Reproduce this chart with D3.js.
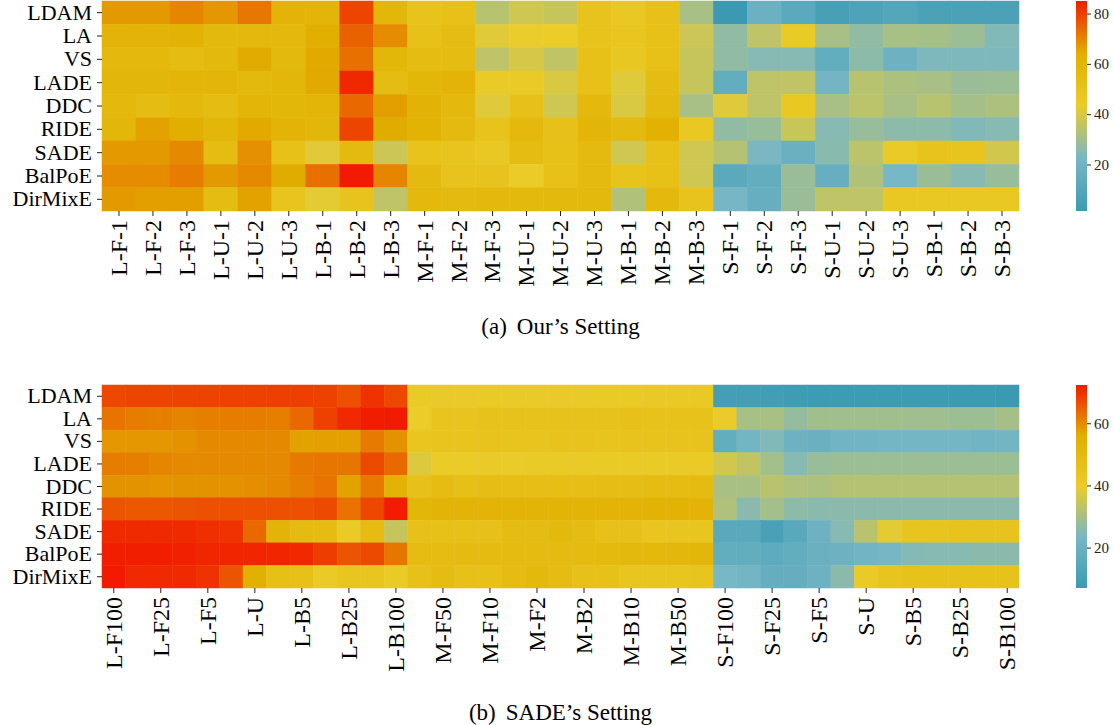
<!DOCTYPE html>
<html>
<head>
<meta charset="utf-8">
<script src="https://cdn.jsdelivr.net/npm/d3@7"></script>
<style>
  body { margin: 0; background: #fff; }
</style>
</head>
<body>
<svg id="chart" width="1114" height="725"></svg>
<script>
const methods = ["LDAM", "LA", "VS", "LADE", "DDC", "RIDE", "SADE", "BalPoE", "DirMixE"];

const oursCols = ["L-F-1", "L-F-2", "L-F-3", "L-U-1", "L-U-2", "L-U-3", "L-B-1", "L-B-2", "L-B-3",
  "M-F-1", "M-F-2", "M-F-3", "M-U-1", "M-U-2", "M-U-3", "M-B-1", "M-B-2", "M-B-3",
  "S-F-1", "S-F-2", "S-F-3", "S-U-1", "S-U-2", "S-U-3", "S-B-1", "S-B-2", "S-B-3"];

const sadeCols = ["L-F100", "L-F50", "L-F25", "L-F10", "L-F5", "L-F2", "L-U", "L-B2", "L-B5", "L-B10", "L-B25", "L-B50", "L-B100",
  "M-F100", "M-F50", "M-F25", "M-F10", "M-F5", "M-F2", "M-U", "M-B2", "M-B5", "M-B10", "M-B25", "M-B50", "M-B100",
  "S-F100", "S-F50", "S-F25", "S-F10", "S-F5", "S-F2", "S-U", "S-B2", "S-B5", "S-B10", "S-B25", "S-B50", "S-B100"];

// (a) Our's setting, one row per method
const oursValues = [
  [67, 67, 70, 67.5, 72, 60.5, 60, 79, 59, 50, 52, 34, 38, 36.6, 49.5, 46, 51, 31, 1.5, 18, 12, 6, 8, 10, 7, 7, 7],
  [60.5, 60.5, 62, 57, 58, 58, 64, 75, 69, 52, 55, 41.5, 43, 43.5, 50, 48, 52, 37.5, 27, 35, 45, 31, 27, 31, 30.5, 29, 24],
  [57.5, 57.5, 55, 57, 64.5, 57, 65, 73, 59, 55, 55, 35, 39.5, 35.5, 52, 47, 52, 36.5, 27, 25, 25, 15, 26, 19, 23.5, 23.5, 23.5],
  [59, 59, 60, 60, 57, 59, 65, 83, 55, 59, 60.5, 45, 45, 40, 52, 41, 55, 36.5, 15, 35, 35.5, 21, 34, 32, 31, 28.5, 29],
  [57.5, 55, 57.5, 55, 60, 59, 60, 74, 66.5, 61, 58, 41, 51, 38, 57.5, 40, 56, 31, 41, 35, 46, 31, 34.5, 31, 34, 30.5, 32],
  [59, 66, 64, 59, 65, 60.5, 59, 79, 64.5, 62, 56, 50, 57.5, 51, 60, 56, 63, 46, 27, 28, 37, 25, 28, 26, 26, 24, 25],
  [67, 67, 69.5, 55, 68.5, 52, 41.5, 56, 37.5, 50, 49, 46, 55, 52, 56, 38, 52, 38, 33.5, 22.8, 17.5, 25.5, 34.5, 45, 49.5, 49, 38.5],
  [69, 69, 71.3, 67, 69.5, 64.5, 73, 85, 70, 56, 49.5, 49.5, 44, 52, 56, 50, 52, 38, 12, 15.5, 28.5, 16.5, 32.5, 22.4, 28.5, 25, 28],
  [67, 66.5, 66.5, 55, 66, 49, 42, 49.5, 35, 57.5, 56, 57.5, 57, 57, 57, 32.5, 57.5, 49.5, 22, 16.5, 28.5, 35, 35, 46, 46, 46, 46]
];

// (b) SADE's setting, one row per method
const sadeValues = [
  [67.4, 67.6, 67.6, 67.8, 67.8, 68, 68, 68.2, 68.2, 68, 66.4, 69.7, 67.4,
   41, 40.5, 40.5, 40.8, 40.5, 40.5, 40.5, 40.5, 40.8, 41, 41.2, 41.2, 41.2,
   9.5, 9.5, 9, 8, 7.5, 7.5, 7.5, 7.5, 7.5, 7.5, 7.3, 7.3, 7],
  [62.5, 61.5, 61.2, 60.8, 61.2, 61.5, 61.5, 61.2, 63.8, 68, 70.7, 72, 72.3,
   39.5, 44, 44, 45.5, 45, 45, 45, 45, 45, 46, 45.5, 45.5, 45.5,
   40, 30, 30.3, 27.5, 29.2, 29.2, 29.2, 29.2, 29, 29, 28.5, 28.5, 29.8],
  [58.6, 58.6, 58.6, 59.2, 60, 60, 60, 60, 57.3, 57.6, 57.6, 61.8, 59.2,
   43.5, 44, 44, 44.5, 44.2, 44.2, 44.5, 44.5, 44.2, 44.5, 44.5, 44.5, 44.5,
   17.5, 22, 24.6, 20.7, 19.5, 21.5, 21.5, 22.5, 22.5, 22.5, 22.5, 21.5, 22],
  [61.5, 61.2, 60.5, 60, 60, 60, 60, 60, 62, 62.2, 62.2, 67, 63.8,
   37.7, 40.3, 40.3, 40.5, 40, 41, 41, 41, 41, 41, 41, 41, 41,
   36, 33.8, 29.5, 25.3, 28, 28.5, 28.5, 28.5, 28.5, 28.5, 28.5, 28.5, 28.5],
  [59, 59, 58.8, 59, 59, 59.2, 59.5, 60, 61.2, 62.5, 57.3, 62, 54,
   46, 48.5, 47, 48, 47.5, 47.5, 47.5, 47.5, 48, 48, 48.5, 48.5, 49,
   30.2, 30.2, 32.5, 31.2, 30.8, 32, 32, 32, 32, 32, 32, 32, 32],
  [66, 65.5, 65.5, 66, 66.4, 66.4, 66.4, 66.4, 66.4, 67, 62.5, 67.4, 72,
   52, 53, 53, 53.4, 53, 53, 53, 53, 53.4, 53.4, 54, 54, 53.4,
   31.2, 26, 29.5, 26.5, 26, 26, 26, 26, 26, 26, 26, 26, 26],
  [70.5, 70.5, 70.5, 70.5, 70, 69.7, 63.8, 53.4, 49, 48.5, 41, 48.5, 34.4,
   46, 46.5, 46, 46, 48.8, 48.8, 50.5, 48.8, 46, 46, 43.5, 43.5, 43.5,
   15, 15, 11, 15, 20.7, 25.3, 32.5, 38.7, 44.2, 44.2, 44.5, 44.5, 44.5],
  [71.8, 71.8, 71.8, 71.5, 71, 71, 71, 71, 70.7, 68.5, 66, 67, 62.2,
   48.5, 48.5, 49, 49, 49, 49.5, 49.5, 49.5, 50, 50.5, 51, 51.5, 52,
   17.5, 17.5, 16.5, 17.5, 19.5, 20.7, 21.5, 23, 25, 25.3, 25.3, 26, 26],
  [72.3, 70.7, 70.5, 70.5, 69.7, 66, 55.6, 47, 46, 41, 43.5, 43.5, 41,
   46, 48.8, 46, 46.5, 48.8, 50.5, 48.8, 46, 46, 43.5, 43.5, 43.5, 44,
   23.3, 22, 18.5, 18.5, 20.7, 26, 41, 44, 45.5, 45.5, 45.5, 45.5, 45.5]
];

const oursBarTicks = [20, 40, 60, 80];
const sadeBarTicks = [20, 40, 60];

// Zissou1 palette, spread evenly over each panel's value range
const palette = ["#3B9AB2", "#78B7C5", "#EBCC2A", "#E1AF00", "#F21A00"];

const serif = "'Liberation Serif', 'Times New Roman', Times, serif";

const svg = d3.select("#chart").style("font-family", serif);
const left = 102, right = 1019;
const barX = 1076, barW = 11;

function drawPanel(id, cols, values, top, bottom, labelEvery, barTicks, caption, captionY) {
  const g = svg.append("g").attr("class", "panel-" + id);

  const x = d3.scaleBand().domain(cols).range([left, right]);
  const y = d3.scaleBand().domain(methods).range([top, bottom]);

  const ext = d3.extent(values.flat());
  const stops = palette.map((c, i) => ext[0] + (i * (ext[1] - ext[0])) / (palette.length - 1));
  const color = d3.scaleLinear().domain(stops).range(palette).interpolate(d3.interpolateRgb);

  const cells = [];
  values.forEach((row, r) => row.forEach((v, c) => cells.push({ m: methods[r], col: cols[c], v: v })));

  g.append("g")
    .selectAll("rect")
    .data(cells)
    .join("rect")
    .attr("x", (d) => x(d.col))
    .attr("y", (d) => y(d.m))
    .attr("width", x.bandwidth())
    .attr("height", y.bandwidth())
    .attr("fill", (d) => color(d.v))
    .attr("stroke", (d) => color(d.v))
    .attr("stroke-width", 0.5);

  // x axis, rotated labels
  const xAxis = g.append("g")
    .attr("transform", `translate(0,${bottom})`)
    .call(d3.axisBottom(x)
      .tickValues(cols.filter((d, i) => i % labelEvery === 0))
      .tickSize(5));
  xAxis.attr("font-family", serif);
  xAxis.select(".domain").remove();
  xAxis.selectAll("line").attr("stroke", "#222");
  xAxis.selectAll("text")
    .attr("font-size", 24)
    .attr("fill", "#000")
    .attr("transform", "rotate(-90)")
    .attr("x", -9)
    .attr("y", 0)
    .attr("dy", "0.33em")
    .attr("text-anchor", "end");

  // y axis
  const yAxis = g.append("g")
    .attr("transform", `translate(${left},0)`)
    .call(d3.axisLeft(y).tickSize(5).tickPadding(5));
  yAxis.attr("font-family", serif);
  yAxis.select(".domain").remove();
  yAxis.selectAll("line").attr("stroke", "#222");
  yAxis.selectAll("text").attr("font-size", 22).attr("fill", "#000");

  // colour bar
  const gradId = "grad-" + id;
  const grad = svg.append("defs").append("linearGradient")
    .attr("id", gradId)
    .attr("x1", 0).attr("y1", 1).attr("x2", 0).attr("y2", 0);
  palette.forEach((c, i) => {
    grad.append("stop").attr("offset", i / (palette.length - 1)).attr("stop-color", c);
  });

  g.append("rect")
    .attr("x", barX)
    .attr("y", top)
    .attr("width", barW)
    .attr("height", bottom - top)
    .attr("fill", `url(#${gradId})`);

  const barScale = d3.scaleLinear().domain(ext).range([bottom, top]);
  const barAxis = g.append("g")
    .attr("transform", `translate(${barX + barW},0)`)
    .call(d3.axisRight(barScale).tickValues(barTicks).tickSize(4).tickPadding(3));
  barAxis.attr("font-family", serif);
  barAxis.select(".domain").remove();
  barAxis.selectAll("line").attr("stroke", "#222");
  barAxis.selectAll("text").attr("font-size", 15).attr("fill", "#222");

  // caption under the panel
  const cap = g.append("text")
    .attr("x", (left + right) / 2)
    .attr("y", captionY)
    .attr("text-anchor", "middle")
    .attr("font-family", serif)
    .attr("font-size", 23);
  cap.append("tspan").text(caption[0]);
  cap.append("tspan").attr("dx", 10).text(caption[1]);
}

drawPanel("ours", oursCols, oursValues, 1, 211, 1, oursBarTicks, ["(a)", "Our\u2019s Setting"], 334);
drawPanel("sade", sadeCols, sadeValues, 385, 588, 2, sadeBarTicks, ["(b)", "SADE\u2019s Setting"], 720);
</script>
</body>
</html>
